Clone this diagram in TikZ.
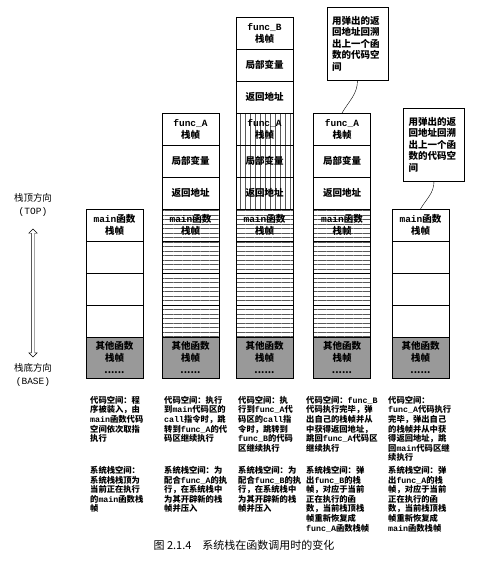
\documentclass[tikz,border=0pt]{standalone}
\usepackage{fontspec}
\setmainfont{Noto Sans CJK SC}
\setmonofont{Liberation Mono}
\usetikzlibrary{positioning,patterns.meta,shapes.arrows}

\begin{document}
\begin{tikzpicture}[
    x=1pt, y=-1pt,
    node distance=0pt,
    cell/.style={rectangle,draw,minimum width=57pt,minimum height=32pt,inner sep=0pt,outer sep=0pt,align=center,font=\fontsize{9.5}{12}\selectfont\bfseries},
    base/.style={cell,minimum height=41pt,fill=black!40},
    hmain/.style={cell,pattern={Lines[angle=0,distance=4.5pt,line width=0.5pt]},pattern color=black!65},
    vfunc/.style={cell,pattern={Lines[angle=90,distance=5pt,line width=0.5pt]},pattern color=black!65},
    note/.style={rectangle,draw,text width=51pt,minimum height=73pt,inner sep=5pt,align=left,font=\fontsize{9.5}{11.5}\selectfont\bfseries},
    desc/.style={anchor=north west,inner sep=0pt,align=left,font=\fontsize{8.3}{9.6}\selectfont\bfseries},
    dirlab/.style={align=center,font=\fontsize{9.5}{12.5}\selectfont}]
    \fill[white] (0,0) rectangle (487,566);
    \useasboundingbox (0,0) rectangle (487,566);

    % 栈方向
    \node[dirlab] (top) at (33,205) {栈顶方向\\\texttt{(TOP)}};
    \node[dirlab] (bot) at (33,375) {栈底方向\\\texttt{(BASE)}};
    \node[double arrow,draw,fill=white,rotate=90,minimum height=128pt,inner sep=1.5pt,double arrow head extend=2.5pt] (dir) at (33,293) {};

    % 第一列：main
    \node[base] (base1) at (114.5,357.5) {其他函数\\栈帧\\......};
    \node[cell,above=of base1] (e1c) {};
    \node[cell,above=of e1c] (e1b) {};
    \node[cell,above=of e1b] (e1a) {};
    \node[cell,above=of e1a] (main1) {\texttt{main}函数\\栈帧};

    % 第二列：调用func_A
    \node[base] (base2) at (190.5,357.5) {其他函数\\栈帧\\......};
    \node[hmain,above=of base2] (m2c) {};
    \node[hmain,above=of m2c] (m2b) {};
    \node[hmain,above=of m2b] (m2a) {};
    \node[hmain,above=of m2a] (main2) {\texttt{main}函数\\栈帧};
    \node[cell,above=of main2] (ret2) {返回地址};
    \node[cell,above=of ret2] (loc2) {局部变量};
    \node[cell,above=of loc2] (fa2) {\texttt{func\_A}\\栈帧};

    % 第三列：调用func_B
    \node[base] (base3) at (264.5,357.5) {其他函数\\栈帧\\......};
    \node[hmain,above=of base3] (m3c) {};
    \node[hmain,above=of m3c] (m3b) {};
    \node[hmain,above=of m3b] (m3a) {};
    \node[hmain,above=of m3a] (main3) {\texttt{main}函数\\栈帧};
    \node[vfunc,above=of main3] (ret3a) {返回地址};
    \node[vfunc,above=of ret3a] (loc3a) {局部变量};
    \node[vfunc,above=of loc3a] (fa3) {\texttt{func\_A}\\栈帧};
    \node[cell,above=of fa3] (ret3b) {返回地址};
    \node[cell,above=of ret3b] (loc3b) {局部变量};
    \node[cell,above=of loc3b] (fb3) {\texttt{func\_B}\\栈帧};

    % 第四列：func_B返回
    \node[base] (base4) at (342,357.5) {其他函数\\栈帧\\......};
    \node[hmain,above=of base4] (m4c) {};
    \node[hmain,above=of m4c] (m4b) {};
    \node[hmain,above=of m4b] (m4a) {};
    \node[hmain,above=of m4a] (main4) {\texttt{main}函数\\栈帧};
    \node[cell,above=of main4] (ret4) {返回地址};
    \node[cell,above=of ret4] (loc4) {局部变量};
    \node[cell,above=of loc4] (fa4) {\texttt{func\_A}\\栈帧};

    % 第五列：func_A返回
    \node[base] (base5) at (420.5,357.5) {其他函数\\栈帧\\......};
    \node[cell,above=of base5] (e5c) {};
    \node[cell,above=of e5c] (e5b) {};
    \node[cell,above=of e5b] (e5a) {};
    \node[cell,above=of e5a] (main5) {\texttt{main}函数\\栈帧};

    % 说明框
    \node[note] (note1) at (357.5,43.5) {用弹出的返\\回地址回溯\\出上一个函\\数的代码空\\间};
    \node[note] (note2) at (434,144.5) {用弹出的返\\回地址回溯\\出上一个函\\数的代码空\\间};
    \draw (note1.south) to[out=-90,in=60] (fa4.north);
    \draw (note2.south) to[out=-90,in=60] (main5.north);

    % 代码空间
    \node[desc] (code1) at (90,396) {代码空间：程\\序被装入，由\\\texttt{main}函数代码\\空间依次取指\\执行};
    \node[desc] (code2) at (164,396) {代码空间：执行\\到\texttt{main}代码区的\\\texttt{call}指令时，跳\\转到\texttt{func\_A}的代\\码区继续执行};
    \node[desc] (code3) at (238,396) {代码空间：执\\行到\texttt{func\_A}代\\码区的\texttt{call}指\\令时，跳转到\\\texttt{func\_B}的代码\\区继续执行};
    \node[desc] (code4) at (306,396) {代码空间：\texttt{func\_B}\\代码执行完毕，弹\\出自己的栈帧并从\\中获得返回地址，\\跳回\texttt{func\_A}代码区\\继续执行};
    \node[desc] (code5) at (388,396) {代码空间：\\\texttt{func\_A}代码执行\\完毕，弹出自己\\的栈帧并从中获\\得返回地址，跳\\回\texttt{main}代码区继\\续执行};

    % 系统栈空间
    \node[desc] (sys1) at (90,466) {系统栈空间：\\系统栈栈顶为\\当前正在执行\\的\texttt{main}函数栈\\帧};
    \node[desc] (sys2) at (164,466) {系统栈空间：为\\配合\texttt{func\_A}的执\\行，在系统栈中\\为其开辟新的栈\\帧并压入};
    \node[desc] (sys3) at (238,466) {系统栈空间：为\\配合\texttt{func\_B}的执\\行，在系统栈中\\为其开辟新的栈\\帧并压入};
    \node[desc] (sys4) at (306,466) {系统栈空间：弹\\出\texttt{func\_B}的栈\\帧，对应于当前\\正在执行的函\\数，当前栈顶栈\\帧重新恢复成\\\texttt{func\_A}函数栈帧};
    \node[desc] (sys5) at (388,466) {系统栈空间：弹\\出\texttt{func\_A}的栈\\帧，对应于当前\\正在执行的函\\数，当前栈顶栈\\帧重新恢复成\\\texttt{main}函数栈帧};

    \node[font=\fontsize{11}{13}\selectfont] (cap) at (244,545) {图 2.1.4\quad 系统栈在函数调用时的变化};
\end{tikzpicture}
\end{document}
